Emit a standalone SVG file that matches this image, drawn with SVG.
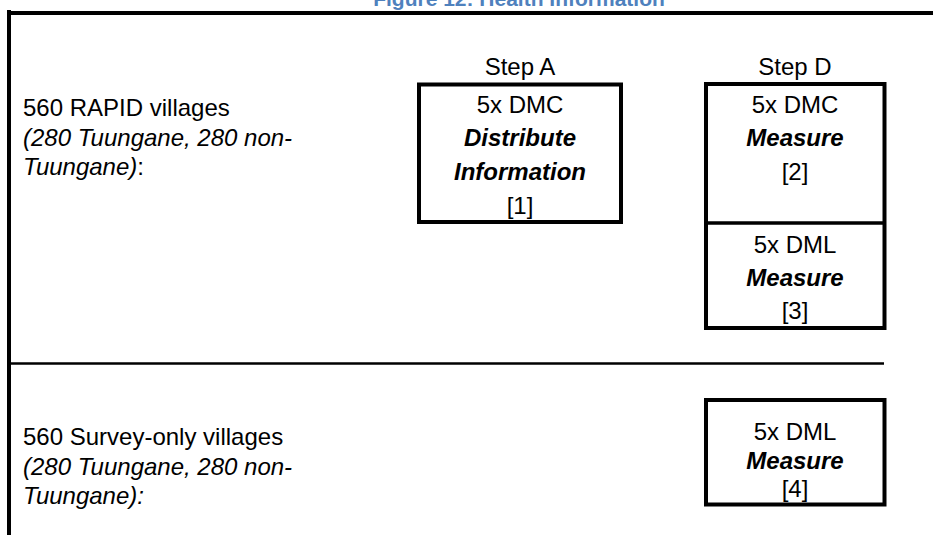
<svg xmlns="http://www.w3.org/2000/svg" width="933" height="535" viewBox="0 0 933 535">
<style>
text{font-family:"Liberation Sans",Arial,sans-serif;font-size:24px;fill:#000}
.c{text-anchor:middle}
.bi{font-weight:bold;font-style:italic}
.i{font-style:italic}
.box{fill:#fff;stroke:#000;stroke-width:4}
.title{font-size:21px;font-weight:bold;fill:#4F81BD}
</style>
<rect width="933" height="535" fill="#fff"/>
<text class="title c" x="519" y="6">Figure 12: Health Information</text>
<g id="frame" stroke="#000" fill="none">
<line x1="9" y1="10" x2="9" y2="535" stroke-width="4"/>
<line x1="7" y1="13" x2="933" y2="13" stroke-width="4"/>
<line x1="9" y1="363.5" x2="884" y2="363.5" stroke-width="2.5"/>
</g>
<g id="row-rapid">
<text x="23" y="116">560 RAPID villages</text>
<text class="i" x="23" y="145.5">(280 Tuungane, 280 non-</text>
<text x="23" y="175"><tspan class="i">Tuungane)</tspan>:</text>
</g>
<g id="row-survey">
<text x="23" y="445">560 Survey-only villages</text>
<text class="i" x="23" y="474.5">(280 Tuungane, 280 non-</text>
<text class="i" x="23" y="504">Tuungane):</text>
</g>
<g id="stepA">
<text class="c" x="520" y="75">Step A</text>
<rect class="box" x="419" y="84.5" width="202" height="137.5"/>
<text class="c" x="520" y="112.5">5x DMC</text>
<text class="c bi" x="520" y="146">Distribute</text>
<text class="c bi" x="520" y="180">Information</text>
<text class="c" x="520" y="213.5">[1]</text>
</g>
<g id="stepD">
<text class="c" x="795" y="75">Step D</text>
<rect class="box" x="706" y="84" width="178.5" height="244"/>
<line x1="706" y1="223" x2="884.5" y2="223" stroke="#000" stroke-width="3.7"/>
<text class="c" x="795" y="112.5">5x DMC</text>
<text class="c bi" x="795" y="146">Measure</text>
<text class="c" x="795" y="180">[2]</text>
<text class="c" x="795" y="252.5">5x DML</text>
<text class="c bi" x="795" y="286">Measure</text>
<text class="c" x="795" y="319">[3]</text>
</g>
<g id="survey-measure">
<rect class="box" x="706" y="400" width="178.5" height="104.5"/>
<text class="c" x="795" y="439.5">5x DML</text>
<text class="c bi" x="795" y="468.5">Measure</text>
<text class="c" x="795" y="497">[4]</text>
</g>
<g id="connectors"/>
</svg>
